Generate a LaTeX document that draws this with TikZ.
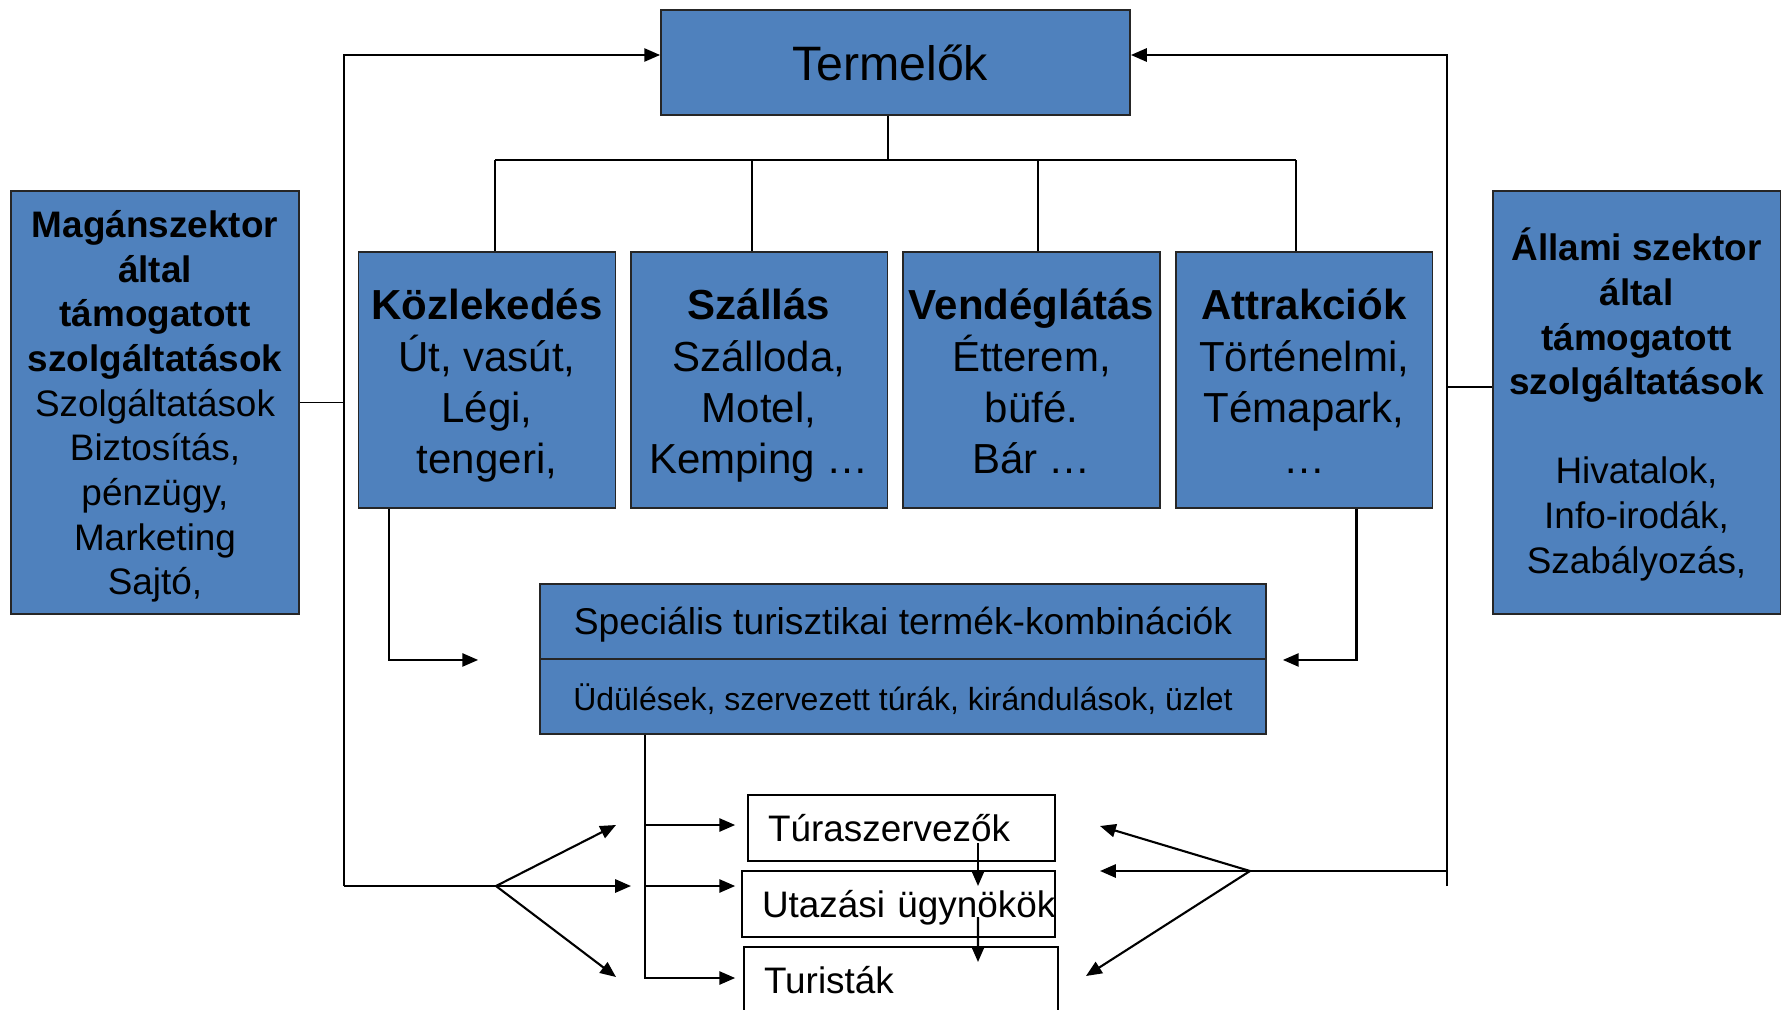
\documentclass[tikz,border=0pt]{standalone}
\usepackage{fontspec}
\setmainfont{Liberation Sans}
\usetikzlibrary{arrows.meta, calc, positioning}
\definecolor{boxblue}{rgb}{0.309804, 0.505882, 0.741176}
\definecolor{boxedge}{rgb}{0.15, 0.15, 0.15}
\newcommand{\lift}[1]{\rule{0pt}{#1}}
\tikzset{
    bluebox/.style={draw=boxedge, line width=1.1pt, fill=boxblue, inner sep=0pt, align=center},
    catbox/.style={bluebox, minimum width=5.14cm, minimum height=5.12cm, font=\fontsize{23.9}{29.2}\selectfont,
        execute at end node={\rule[-6pt]{0pt}{6pt}}},
    sidebox/.style={bluebox, minimum width=5.76cm, minimum height=8.46cm, font=\fontsize{21}{25.4}\selectfont,
        execute at end node={\rule[-5pt]{0pt}{5pt}}},
    specbox/.style={bluebox, minimum width=14.52cm, minimum height=1.5cm},
    whitebox/.style={draw=black, line width=1pt, fill=white, inner xsep=0.4cm, inner ysep=0pt, minimum height=1.32cm, align=left, font=\fontsize{21}{25.4}\selectfont},
    tree/.style={line width=1.1pt},
    arrow/.style={line width=1.2pt, -{Triangle[length=9pt, width=7.5pt]}},
}
\begin{document}
\begin{tikzpicture}[x=0.02cm, y=-0.02cm]
        \path [use as bounding box, clip] (0,0) rectangle (1787,1010);

        \node [bluebox, minimum width=9.38cm, minimum height=2.1cm, font=\fontsize{27.5}{33}\selectfont] (termelok) at (895.5, 62.5) {Termelők\hspace*{0.22cm}};

        \node [catbox] (kozl) at (487, 380) {\lift{25.2pt}\textbf{Közlekedés}\\Út, vasút,\\Légi,\\tengeri,};
        \node [catbox] (szallas) at (759, 380) {\lift{25.2pt}\textbf{Szállás}\\Szálloda,\\Motel,\\Kemping …};
        \node [catbox] (vendeg) at (1031.5, 380) {\lift{25.2pt}\textbf{Vendéglátás}\\Étterem,\\büfé.\\Bár …};
        \node [catbox] (attr) at (1304, 380) {\lift{25.2pt}\textbf{Attrakciók}\\Történelmi,\\Témapark,\\…};

        \node [sidebox] (magan) at (155, 402.5) {\lift{20.5pt}\textbf{Magánszektor}\\\textbf{által}\\\textbf{támogatott}\\\textbf{szolgáltatások}\\Szolgáltatások\\Biztosítás,\\pénzügy,\\Marketing\\Sajtó,};
        \node [sidebox] (allami) at (1636.5, 402.5) {\lift{21.5pt}\textbf{Állami szektor}\\\textbf{által}\\\textbf{támogatott}\\\textbf{szolgáltatások}\\[25.4pt]Hivatalok,\\Info-irodák,\\Szabályozás,};

        \node [specbox, font=\fontsize{21.2}{25.4}\selectfont, text height=17pt, text depth=2.3pt] (spec) at (903, 621.5) {Speciális turisztikai termék-kombinációk};
        \node [specbox, font=\fontsize{18.2}{22}\selectfont, text height=16pt, text depth=0.4pt] (udul) at (903, 696.5) {Üdülések, szervezett túrák, kirándulások, üzlet};

        \node [whitebox, text width=5.34cm] (tura) at (901.5, 828) {Túraszervezők};
        \node [whitebox, text width=5.46cm, text depth=0.5pt] (utaz) at (898.5, 904) {\mbox{Utazási ügynökök}};
        \node [whitebox, text width=5.48cm] (turist) at (901, 980) {Turisták};

        \coordinate (bar) at (888, 160);
        \draw [tree] ([shift={(-7.5,0)}]termelok.south) -- (bar);
        \draw [tree] ([shift={(8,0)}]kozl.north |- bar) -- ([shift={(-8,0)}]attr.north |- bar);
        \draw [tree] ([shift={(8,0)}]kozl.north) -- ([shift={(8,0)}]kozl.north |- bar);
        \draw [tree] ([shift={(-7,0)}]szallas.north) -- ([shift={(-7,0)}]szallas.north |- bar);
        \draw [tree] ([shift={(6.5,0)}]vendeg.north) -- ([shift={(6.5,0)}]vendeg.north |- bar);
        \draw [tree] ([shift={(-8,0)}]attr.north) -- ([shift={(-8,0)}]attr.north |- bar);

        \coordinate (lbot) at (344, 886);
        \coordinate (lfan) at (496, 886);
        \coordinate (lup) at (616, 825);
        \coordinate (lmid) at (631, 886);
        \coordinate (ldown) at (616, 977);
        \draw [tree] (magan.east) -| (lbot);
        \draw [arrow] (lbot) |- ([shift={(0,-7.5)}]termelok.west);
        \draw [tree] (lbot) -- (lfan);
        \draw [arrow] (lfan) -- (lup);
        \draw [arrow] (lfan) -- (lmid);
        \draw [arrow] (lfan) -- (ldown);

        \coordinate (rbot) at (1447, 886);
        \coordinate (rfan) at (1250, 871);
        \coordinate (rup) at (1100, 826);
        \coordinate (rmid) at (1100, 871);
        \coordinate (rdown) at (1086, 976);
        \draw [tree] ([shift={(0,-15.5)}]allami.west) -| (rbot);
        \draw [arrow] (rbot) |- ([shift={(0,-7.5)}]termelok.east);
        \draw [tree] (rbot |- rfan) -- (rfan);
        \draw [arrow] (rfan) -- (rup);
        \draw [arrow] (rfan) -- (rmid);
        \draw [arrow] (rfan) -- (rdown);

        \draw [arrow] ([shift={(31,0)}]kozl.south west) |- ([shift={(-61,0)}]spec.south west);
        \draw [arrow] ([shift={(-77,0)}]attr.south east) |- ([shift={(16,0)}]spec.south east);

        \coordinate (stem) at ([shift={(106,0)}]udul.south west);
        \coordinate (ubranch) at ([shift={(-6,-18)}]utaz.west);
        \draw [arrow] (stem) |- ([shift={(-8,-2)}]turist.west);
        \draw [arrow] ([shift={(0,-3)}]stem |- tura.west) -- ([shift={(-12,-3)}]tura.west);
        \draw [arrow] (stem |- ubranch) -- (ubranch);

        \draw [arrow] ([shift={(76.5,-19)}]tura.south) -- ([shift={(79.5,-18)}]utaz.center);
        \draw [arrow] ([shift={(79.5,13)}]utaz.center) -- ([shift={(77,-18)}]turist.center);
    \end{tikzpicture}
\end{document}
